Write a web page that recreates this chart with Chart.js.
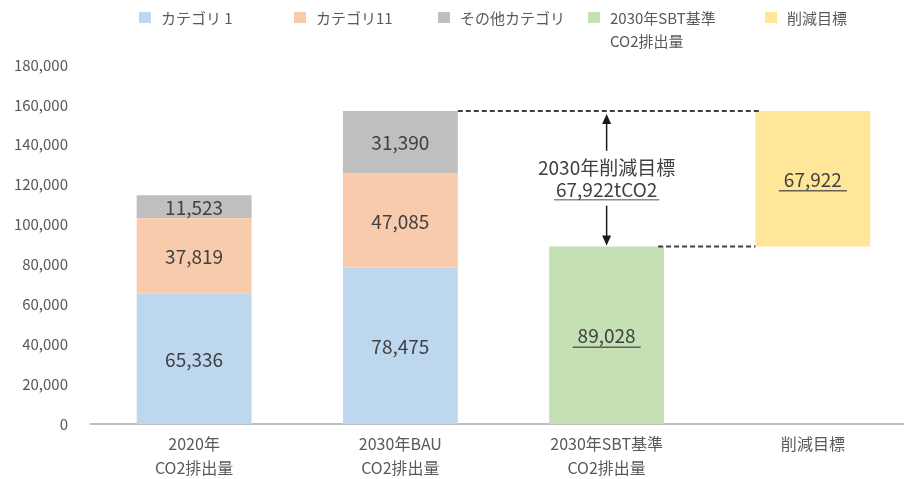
<!DOCTYPE html>
<html lang="ja">
<head>
<meta charset="utf-8">
<title>CO2排出量</title>
<script src="https://cdn.jsdelivr.net/npm/chart.js@4"></script>
<style>
  html, body { margin: 0; padding: 0; background: #fff; overflow: hidden; }
  #wrap { width: 904px; height: 479px; overflow: hidden; }
</style>
</head>
<body>
<div id="wrap"><canvas id="grafico" width="920" height="479"></canvas></div>
<script>
// データ
const categorias = [['2020年', 'CO2排出量'], ['2030年BAU', 'CO2排出量'], ['2030年SBT基準', 'CO2排出量'], '削減目標'];
const categoria1 = [65336, 78475, null, null];
const categoria11 = [37819, 47085, null, null];
const outras = [11523, 31390, null, null];
const sbt2030 = [null, null, 89028, null];
const baseReducao = [null, null, null, 89028];   // 削減目標バーの下の見えない部分
const reducao = [null, null, null, 67922];
const yMax = 180000;
const yPasso = 20000;
const textoMeta = ['2030年削減目標', '67,922tCO2'];

const FONTE = "'Noto Sans CJK JP', 'Noto Sans', sans-serif";

// 凡例の位置 (左端のx)
const legendaX = [139, 294, 438, 588, 765];

// ラベル描画
const pluginRotulos = {
  id: 'rotulos',
  afterDatasetsDraw(chart) {
    const ctx = chart.ctx;
    ctx.save();
    ctx.font = `19px ${FONTE}`;
    ctx.fillStyle = '#404040';
    ctx.textAlign = 'center';
    ctx.textBaseline = 'middle';
    chart.data.datasets.forEach((ds, i) => {
      if (ds.semRotulo) return;
      const meta = chart.getDatasetMeta(i);
      meta.data.forEach((el, j) => {
        const v = ds.data[j];
        if (v == null) return;
        const txt = v.toLocaleString('en-US');
        const cy = (el.y + el.base) / 2;
        ctx.fillText(txt, el.x, cy + 1);
        if (ds.sublinhado) {
          const w = ctx.measureText(txt).width;
          ctx.strokeStyle = 'rgba(64,64,64,0.8)';
          ctx.lineWidth = 1.5;
          ctx.beginPath();
          ctx.moveTo(el.x - w / 2 - 5, cy + 12);
          ctx.lineTo(el.x + w / 2 + 5, cy + 12);
          ctx.stroke();
        }
      });
    });
    ctx.restore();
  }
};

// 点線と矢印
const pluginMeta = {
  id: 'meta',
  afterDatasetsDraw(chart) {
    const ctx = chart.ctx;
    const barBau = chart.getDatasetMeta(2).data[1];
    const barSbt = chart.getDatasetMeta(3).data[2];
    const barRed = chart.getDatasetMeta(5).data[3];
    const topo = barBau.y;
    const baixo = barSbt.y;
    const esqRed = barRed.x - barRed.width / 2;

    ctx.save();
    ctx.strokeStyle = '#404040';
    ctx.lineWidth = 2;
    ctx.setLineDash([5, 3]);
    ctx.beginPath();
    ctx.moveTo(barBau.x + barBau.width / 2, topo);
    ctx.lineTo(esqRed + 6, topo);
    ctx.moveTo(barSbt.x + barSbt.width / 2 - 6, baixo);
    ctx.lineTo(esqRed, baixo);
    ctx.stroke();
    ctx.setLineDash([]);

    const ax = barSbt.x;
    const meio = (topo + baixo) / 2;
    ctx.strokeStyle = '#1a1a1a';
    ctx.fillStyle = '#1a1a1a';
    ctx.lineWidth = 1.5;
    // 上向き矢印
    ctx.beginPath();
    ctx.moveTo(ax, topo + 12);
    ctx.lineTo(ax, meio - 28);
    ctx.stroke();
    ctx.beginPath();
    ctx.moveTo(ax, topo + 3);
    ctx.lineTo(ax - 4.5, topo + 13);
    ctx.lineTo(ax + 4.5, topo + 13);
    ctx.closePath();
    ctx.fill();
    // 下向き矢印
    ctx.beginPath();
    ctx.moveTo(ax, meio + 27);
    ctx.lineTo(ax, baixo - 10);
    ctx.stroke();
    ctx.beginPath();
    ctx.moveTo(ax, baixo - 1);
    ctx.lineTo(ax - 4.5, baixo - 11);
    ctx.lineTo(ax + 4.5, baixo - 11);
    ctx.closePath();
    ctx.fill();

    // テキスト
    ctx.font = `19px ${FONTE}`;
    ctx.fillStyle = '#404040';
    ctx.textAlign = 'center';
    ctx.textBaseline = 'middle';
    ctx.fillText(textoMeta[0], ax, meio - 11);
    ctx.fillText(textoMeta[1], ax, meio + 11);
    const w = ctx.measureText(textoMeta[1]).width;
    ctx.strokeStyle = 'rgba(64,64,64,0.6)';
    ctx.lineWidth = 1.5;
    ctx.beginPath();
    ctx.moveTo(ax - w / 2 - 2, meio + 21);
    ctx.lineTo(ax + w / 2 + 2, meio + 21);
    ctx.stroke();
    ctx.restore();
  }
};

// 凡例
const pluginLegenda = {
  id: 'legenda',
  afterDraw(chart) {
    const ctx = chart.ctx;
    ctx.save();
    ctx.font = `15px ${FONTE}`;
    ctx.textBaseline = 'middle';
    ctx.textAlign = 'left';
    let k = 0;
    chart.data.datasets.forEach((ds) => {
      if (ds.semLegenda) return;
      const x = legendaX[k++];
      ctx.fillStyle = ds.backgroundColor;
      ctx.fillRect(x, 12, 12, 11);
      ctx.fillStyle = '#595959';
      ds.label.split('\n').forEach((linha, n) => {
        ctx.fillText(linha, x + 22, 18 + n * 23);
      });
    });
    ctx.restore();
  }
};

const ctx = document.getElementById('grafico').getContext('2d');
new Chart(ctx, {
  type: 'bar',
  data: {
    labels: categorias,
    datasets: [
      { label: 'カテゴリ 1', data: categoria1, backgroundColor: '#BDD7EE' },
      { label: 'カテゴリ11', data: categoria11, backgroundColor: '#F8CBAD' },
      { label: 'その他カテゴリ', data: outras, backgroundColor: '#BFBFBF' },
      { label: '2030年SBT基準\nCO2排出量', data: sbt2030, backgroundColor: '#C5E0B4', sublinhado: true },
      { label: 'base', data: baseReducao, backgroundColor: 'rgba(0,0,0,0)', semRotulo: true, semLegenda: true },
      { label: '削減目標', data: reducao, backgroundColor: '#FFE699', sublinhado: true },
    ],
  },
  options: {
    responsive: false,
    animation: false,
    devicePixelRatio: 1,
    layout: { padding: { top: 65, right: 4, bottom: 0, left: 0 } },
    datasets: { bar: { categoryPercentage: 1, barPercentage: 0.557, borderWidth: 0 } },
    plugins: {
      legend: { display: false },
      tooltip: { enabled: false },
    },
    scales: {
      x: {
        stacked: true,
        grid: { display: false, drawTicks: false },
        border: { display: true, color: '#BFBFBF', width: 2 },
        ticks: {
          color: '#595959',
          font: { family: FONTE, size: 16, lineHeight: 1.5 },
          padding: 8,
          maxRotation: 0,
        },
        afterFit: (escala) => { escala.height = 55; },
      },
      y: {
        stacked: true,
        min: 0,
        max: yMax,
        grid: { display: false, drawTicks: false },
        border: { display: false },
        ticks: {
          stepSize: yPasso,
          color: '#595959',
          font: { family: FONTE, size: 15 },
          padding: 23,
          callback: (v) => v.toLocaleString('en-US'),
        },
        afterFit: (escala) => { escala.width = 91; },
      },
    },
  },
  plugins: [pluginRotulos, pluginMeta, pluginLegenda],
});
</script>
</body>
</html>
